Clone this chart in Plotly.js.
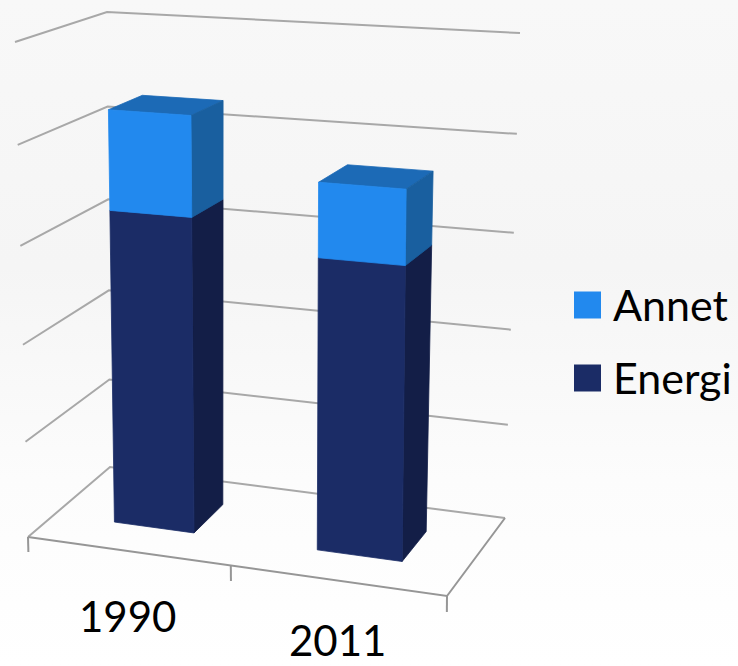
<!DOCTYPE html>
<html><head><meta charset="utf-8">
<script src="https://cdn.plot.ly/plotly-3.0.1.min.js"></script>
<style>html,body{margin:0;padding:0;width:738px;height:666px;overflow:hidden;background:linear-gradient(180deg,#f8f8f8 0%,#f5f5f5 40%,#fcfcfc 72%,#ffffff 100%)}</style>
</head><body><div id="c" style="width:738px;height:666px"></div>
<script>
const categories=['1990','2011'];
const seriesNames=['Annet','Energi'];
const energi=[32.6,29.7];
const annet=[10.1,7.4];
const zTicks=[0,10,20,30,40,50];
const axisMax=50;

// View of the 3-D plot box: where its eight corners fall on the page.
const view={flb:[28,537],frb:[447,596],blb:[110,467],brb:[505,518],
            flt:[15,42],frt:[452,69],blt:[107,12],brt:[520,33]};
const perspectiveZ=0.05, perspectiveX=0.066;
function project(x,d,z){ // x: category axis 0..2, d: depth 0..1, z: value
  const s=x/categories.length, v=d, r=z/axisMax;
  const u=s/(1+perspectiveX*(1-s));
  const w=r/(1+perspectiveZ*(1-r));
  const mix=(a,b,t)=>[a[0]+(b[0]-a[0])*t,a[1]+(b[1]-a[1])*t];
  const bottom=mix(mix(view.flb,view.frb,u),mix(view.blb,view.brb,u),v);
  const top=mix(mix(view.flt,view.frt,u),mix(view.blt,view.brt,u),v);
  return mix(bottom,top,w);
}
function path(points,style,extra){
  const X=[],Y=[];
  points.forEach(p=>{ if(p===null){X.push(null);Y.push(null);} else {const q=project(p[0],p[1],p[2]);X.push(q[0]);Y.push(q[1]);} });
  return Object.assign({type:'scatter',mode:'lines',x:X,y:Y,hoverinfo:'skip',showlegend:false},style,extra||{});
}
const gridLine={line:{color:'#a8a8a8',width:2}};
const traces=[];
// grid on the left and back walls
zTicks.forEach(z=>traces.push(path([[0,0,z],[0,1,z],[2,1,z]],gridLine)));
// floor and category ticks
const tickDrop=-1.6;
traces.push(path([[0,0,0],[2,0,0],[2,1,0]],{line:{color:'#969696',width:2}}));
[0,1,2].forEach(x=>traces.push(path([[x,0,0],[x,0,tickDrop]],{line:{color:'#969696',width:2}})));

const halfL=0.195, halfR=0.205, d0=0.33, d1=0.72;
function faces(name,base,vals,col){
  const front=[],side=[],topF=[];
  vals.forEach((val,i)=>{
    const x0=i+0.5-halfL,x1=i+0.5+halfR,z0=base[i],z1=z0+val;
    front.push([x0,d0,z0],[x1,d0,z0],[x1,d0,z1],[x0,d0,z1],[x0,d0,z0],null);
    side.push([x1,d0,z0],[x1,d1,z0],[x1,d1,z1],[x1,d0,z1],[x1,d0,z0],null);
    topF.push([x0,d0,z1],[x1,d0,z1],[x1,d1,z1],[x0,d1,z1],[x0,d0,z1],null);
  });
  const mk=(pts,c)=>path(pts,{fill:'toself',fillcolor:c,line:{width:0.8,color:c},name:name});
  return [mk(topF,col.top),mk(side,col.side),mk(front,col.front)];
}
const colorsAnnet={front:'#2289ee',side:'#195f9f',top:'#1c6ab6'};
const colorsEnergi={front:'#1b2c66',side:'#131e47',top:'#1b2c66'};
traces.push(...faces('Energi',[0,0],energi,colorsEnergi));
traces.push(...faces('Annet',energi,annet,colorsAnnet));

const fontFam='Lato,"Open Sans",sans-serif';
const annotations=[];
categories.forEach((c,i)=>{
  const p=project(i+0.5,0,0);
  annotations.push({x:p[0],y:Math.min(p[1]+65,640),xref:'x',yref:'y',text:c,showarrow:false,xanchor:'center',yanchor:'middle',font:{size:42,family:fontFam,color:'#000'}});
});
const legendColors=[colorsAnnet.front,colorsEnergi.front];
const legendY=[304,377];
const swatchY=[305,378];
const shapes=[];
seriesNames.forEach((n,i)=>{
  shapes.push({type:'rect',xref:'x',yref:'y',x0:574,x1:601,y0:swatchY[i]-13.5,y1:swatchY[i]+13.5,fillcolor:legendColors[i],line:{width:0}});
  annotations.push({x:611,y:legendY[i],xref:'x',yref:'y',text:n,showarrow:false,xanchor:'left',yanchor:'middle',font:{size:43,family:fontFam,color:'#000'}});
});
const layout={width:738,height:666,paper_bgcolor:'rgba(0,0,0,0)',plot_bgcolor:'rgba(0,0,0,0)',margin:{l:0,r:0,t:0,b:0},showlegend:false,
 xaxis:{range:[0,738],visible:false,fixedrange:true},yaxis:{range:[666,0],visible:false,fixedrange:true},
 annotations,shapes};
Plotly.newPlot('c',traces,layout,{displayModeBar:false,staticPlot:true});
</script></body></html>
